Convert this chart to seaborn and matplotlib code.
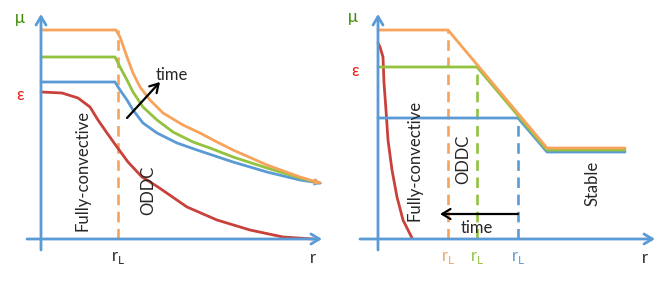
import matplotlib
matplotlib.use("Agg")
import matplotlib.pyplot as plt
import seaborn as sns

# Schematic profiles, arbitrary units (r along the axis, value above the axis)
ORANGE = "#F7A35C"
GREEN = "#92C23E"
BLUE = "#5B9BD5"
RED = "#C9413B"
AXIS = "#5B9BD5"

# left panel: smooth profiles
left_orange_r = [0, 75, 79, 86, 92, 99, 109, 122, 142, 159, 176, 192, 226, 259, 279]
left_orange_v = [209, 209, 202, 182, 166, 152, 139, 126, 114, 106, 97, 89, 74, 62, 56]
left_green_r = [0, 74, 79, 86, 92, 102, 116, 132, 152, 169, 192, 226, 259, 279]
left_green_v = [182, 182, 172, 159, 147, 132, 119, 107, 97, 91, 82, 71, 61, 56]
left_blue_r = [0, 74, 79, 86, 92, 102, 116, 136, 156, 192, 226, 259, 279]
left_blue_v = [157, 157, 149, 139, 129, 116, 106, 96, 89, 77, 67, 59, 56]
left_red_r = [0, 21, 37, 49, 57, 66, 76, 87, 101, 117, 146, 176, 209, 242, 272]
left_red_v = [147, 146, 141, 132, 119, 106, 92, 77, 62, 52, 32, 19, 9, 2, 0]
left_rl = 77

# right panel: piecewise linear profiles
right_orange_r = [0, 70, 169, 247]
right_orange_v = [209, 209, 91, 91]
right_green_r = [0, 99, 169, 247]
right_green_v = [172, 172, 89, 89]
right_blue_r = [0, 140, 169, 247]
right_blue_v = [121, 121, 87, 87]
right_red_r = [0, 2, 5, 6, 8, 10, 14, 19, 25, 34]
right_red_v = [196, 192, 182, 156, 129, 99, 69, 42, 19, 1]
right_rl = [70, 99, 140]
right_rl_top = [209, 172, 121]
right_rl_colors = [ORANGE, GREEN, BLUE]

sns.set_theme(style="white")
plt.rcParams["font.family"] = ["Lato", "DejaVu Sans"]

fig = plt.figure(figsize=(6.64, 2.81), dpi=100)
ax1 = fig.add_axes([0, 0, 0.5, 1])
ax2 = fig.add_axes([0.5, 0, 0.5, 1])
ax1.set_xlim(-41, 291)
ax2.set_xlim(-46, 286)
for ax in (ax1, ax2):
    ax.set_ylim(-42, 239)
    ax.axis("off")


def draw_axes(ax, x0, x1):
    arrow = dict(arrowstyle="->,head_length=0.5,head_width=0.3", color=AXIS, lw=2,
                 shrinkA=0, shrinkB=0)
    ax.annotate("", xy=(0, 225), xytext=(0, -11), arrowprops=arrow)
    ax.annotate("", xy=(x1, 0), xytext=(x0, 0), arrowprops=arrow)


def curve(ax, r, v, color):
    sns.lineplot(x=r, y=v, ax=ax, color=color, lw=2.0, estimator=None, sort=False,
                 solid_joinstyle="round", solid_capstyle="round")


fs = 12
# ---- left panel
draw_axes(ax1, -14, 281)
ax1.plot([left_rl, left_rl], [0, left_orange_v[0]], color=ORANGE, lw=1.9, ls=(0, (4, 2.5)))
curve(ax1, left_red_r, left_red_v, RED)
curve(ax1, left_blue_r, left_blue_v, BLUE)
curve(ax1, left_green_r, left_green_v, GREEN)
curve(ax1, left_orange_r, left_orange_v, ORANGE)
# small arrow tips at the end of the upper profiles
for r, v, c in ((left_blue_r, left_blue_v, BLUE), (left_orange_r, left_orange_v, ORANGE)):
    ax1.annotate("", xy=(r[-1] + 2, v[-1] - 0.5), xytext=(r[-2], v[-2]),
                 arrowprops=dict(arrowstyle="-|>,head_length=0.5,head_width=0.2",
                                 color=c, lw=0, shrinkA=0, shrinkB=0))
ax1.text(-21, 221, "μ", color="#3A8A00", fontsize=fs, ha="center", va="center")
ax1.text(-21, 144, "ε", color="#E8201A", fontsize=fs, ha="center", va="center")
ax1.text(left_rl, -19, r"r$_\mathregular{L}$", fontsize=fs, ha="center", va="center")
ax1.text(272, -19, "r", fontsize=fs, ha="center", va="center")
ax1.text(41, 69, "Fully-convective", rotation=90, fontsize=fs, ha="center", va="center")
ax1.text(107, 49, "ODDC", rotation=90, fontsize=fs, ha="center", va="center")
ax1.annotate("", xy=(119, 157), xytext=(86, 121),
             arrowprops=dict(arrowstyle="->,head_length=0.5,head_width=0.3",
                             color="black", lw=1.6, shrinkA=0, shrinkB=0))
ax1.text(131, 164, "time", fontsize=fs, ha="center", va="center")

# ---- right panel
draw_axes(ax2, -18, 277)
for rl, top, c in zip(right_rl, right_rl_top, right_rl_colors):
    ax2.plot([rl, rl], [0, top], color=c, lw=1.9, ls=(0, (4, 2.5)))
    ax2.text(rl, -19, r"r$_\mathregular{L}$", color=c, fontsize=fs, ha="center", va="center")
curve(ax2, right_red_r, right_red_v, RED)
curve(ax2, right_blue_r, right_blue_v, BLUE)
curve(ax2, right_green_r, right_green_v, GREEN)
curve(ax2, right_orange_r, right_orange_v, ORANGE)
ax2.text(-25, 222, "μ", color="#3A8A00", fontsize=fs, ha="center", va="center")
ax2.text(-23, 168, "ε", color="#E8201A", fontsize=fs, ha="center", va="center")
ax2.text(267, -19, "r", fontsize=fs, ha="center", va="center")
ax2.text(37, 79, "Fully-convective", rotation=90, fontsize=fs, ha="center", va="center")
ax2.text(85, 80, "ODDC", rotation=90, fontsize=fs, ha="center", va="center")
ax2.text(215, 56, "Stable", rotation=90, fontsize=fs, ha="center", va="center")
ax2.annotate("", xy=(62, 25), xytext=(140, 25),
             arrowprops=dict(arrowstyle="->,head_length=0.5,head_width=0.3",
                             color="black", lw=1.6, shrinkA=0, shrinkB=0))
ax2.text(99, 11, "time", fontsize=fs, ha="center", va="center")

fig.savefig("out.png", dpi=100)
